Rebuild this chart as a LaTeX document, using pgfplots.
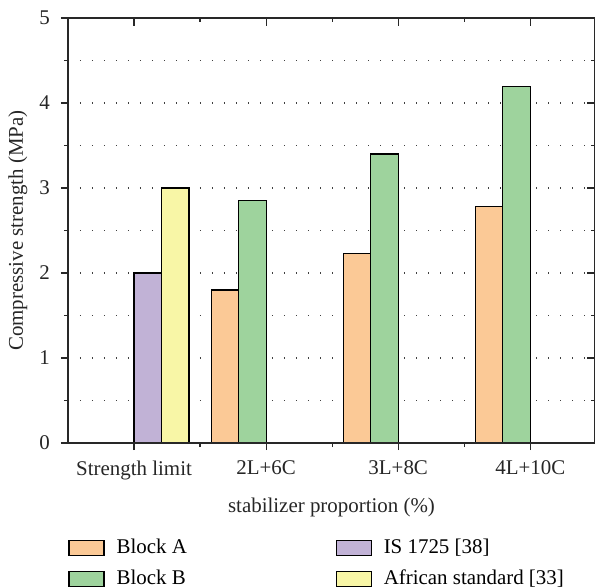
\documentclass[border=0pt]{standalone}
\usepackage{fontspec}
\setmainfont{Liberation Serif}
\usepackage{pgfplots}
\pgfplotsset{compat=1.18}

\definecolor{colA}{RGB}{251,201,150}
\definecolor{colB}{RGB}{158,211,157}
\definecolor{colIS}{RGB}{193,178,214}
\definecolor{colAF}{RGB}{248,246,166}
\definecolor{axc}{RGB}{40,40,40}

\newcommand{\lfont}{\fontsize{10.5}{12.6}\selectfont}

\begin{document}
\begin{tikzpicture}
\begin{axis}[
  width=263.5bp, height=212.5bp, scale only axis,
  xmin=-0.5, xmax=3.49, ymin=0, ymax=5,
  ybar=0pt, bar width=0.208,
  xtick={0,1,2,3},
  xticklabels={Strength limit, 2L+6C, 3L+8C, 4L+10C},
  minor xtick={0.5,1.5,2.5},
  ytick={0,1,2,3,4,5},
  minor ytick={0.5,1.5,2.5,3.5,4.5},
  xtick pos=left, ytick pos=left, tick align=outside,
  major tick length=3.5bp, minor tick length=2bp,
  ymajorgrids, yminorgrids,
  major grid style={dash pattern=on 0.6bp off 5.4bp, color=black!75, line width=0.6bp},
  minor grid style={dash pattern=on 0.6bp off 5.4bp, color=black!75, line width=0.6bp},
  axis line style={line width=1bp, color=axc},
  every tick/.style={line width=0.6bp, color=axc},
  /pgf/number format/assume math mode=true,
  tick label style={font=\lfont, text=black!85},
  xticklabel style={yshift=-2bp},
  yticklabel style={xshift=-2bp},
  label style={font=\lfont, text=black!85},
  xlabel={stabilizer proportion (\%)},
  ylabel={Compressive strength (MPa)},
  xlabel style={at={(rel axis cs:0.5,0)}, anchor=center, yshift=-32bp},
  ylabel style={at={(rel axis cs:0,0.5)}, anchor=center, yshift=25bp},
  legend columns=2, transpose legend,
  legend cell align=left,
  legend style={draw=none, fill=none, at={(rel axis cs:0,0)}, anchor=north west,
    yshift=-46bp, xshift=0bp, inner sep=0pt, font=\lfont, row sep=2.5bp},
  legend image code/.code={\draw[#1, line width=0.6bp, draw=black] (0bp,-3.75bp) rectangle (17.5bp,3.75bp);},
]
\addplot[fill=colA, draw=black, line width=0.6bp] coordinates {(1,1.80) (2,2.23) (3,2.78)};
\addlegendentry{\hspace*{4bp}\makebox[107.5bp][l]{Block A}}
\addplot[fill=colB, draw=black, line width=0.6bp] coordinates {(1,2.85) (2,3.40) (3,4.19)};
\addlegendentry{\hspace*{4bp}\makebox[107.5bp][l]{Block B}}
\addplot[fill=colIS, draw=black, line width=0.6bp] coordinates {(0,2.0)};
\addlegendentry{\hspace*{4bp}IS 1725 [38]}
\addplot[fill=colAF, draw=black, line width=0.6bp] coordinates {(0,3.0)};
\addlegendentry{\hspace*{4bp}African standard [33]}
\coordinate (bl) at (rel axis cs:0,0);
\coordinate (tr) at (rel axis cs:1,1);
\end{axis}
\begin{axis}[
  width=263.5bp, height=212.5bp, scale only axis,
  xmin=-0.5, xmax=3.49, ymin=0, ymax=5,
  xtick={0,1,2,3}, minor xtick={0.5,1.5,2.5},
  ytick={0,1,2,3,4,5}, minor ytick={0.5,1.5,2.5,3.5,4.5},
  xtick pos=right, ytick pos=right, tick align=inside,
  xticklabels={}, yticklabels={},
  major tick length=4bp, minor tick length=2bp,
  axis line style={line width=1bp, color=axc},
  every tick/.style={line width=0.6bp, color=axc},
]
\end{axis}
\pgfresetboundingbox
\path[use as bounding box] ([xshift=-34bp,yshift=-72.5bp]bl) rectangle ([yshift=9bp]tr);
\end{tikzpicture}
\end{document}
